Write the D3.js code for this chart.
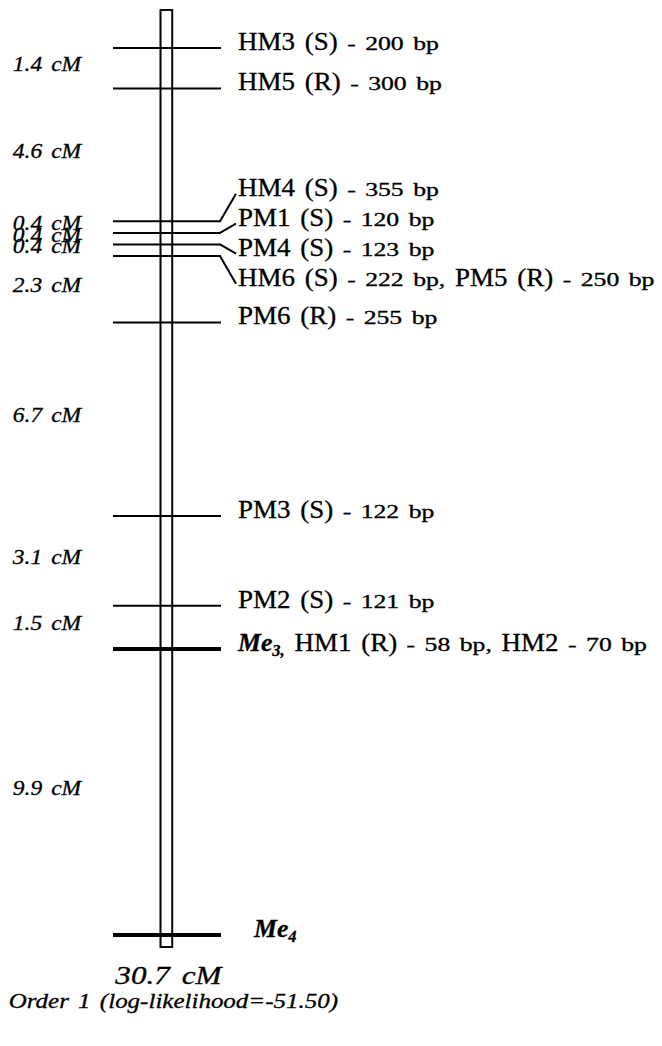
<!DOCTYPE html>
<html><head><meta charset="utf-8">
<script src="https://cdn.jsdelivr.net/npm/d3@7"></script>
<style>html,body{margin:0;padding:0;background:#fff;} svg{display:block}</style>
</head><body>
<svg id="chart" width="662" height="1046"></svg>
<script>
// ---------- data ----------
const loci = ["HM3","HM5","HM4","PM1","PM4","HM6","PM6","PM3","PM2","Me3","Me4"];
const intervalsCM = [1.4, 4.6, 0.4, 0.4, 0.4, 2.3, 6.7, 3.1, 1.5, 9.9];
const intervalLabels = ["1.4 cM","4.6 cM","0.4 cM","0.4 cM","0.4 cM","2.3 cM","6.7 cM","3.1 cM","1.5 cM","9.9 cM"];
const geneLoci = ["Me3","Me4"];
const labelParts = [
  [["HM3 (S)","big"],[" - 200 bp","small"]],
  [["HM5 (R)","big"],[" - 300 bp","small"]],
  [["HM4 (S)","big"],[" - 355 bp","small"]],
  [["PM1 (S)","big"],[" - 120 bp","small"]],
  [["PM4 (S)","big"],[" - 123 bp","small"]],
  [["HM6 (S)","big"],[" - 222 bp,","small"],[" PM5 (R)","big"],[" - 250 bp","small"]],
  [["PM6 (R)","big"],[" - 255 bp","small"]],
  [["PM3 (S)","big"],[" - 122 bp","small"]],
  [["PM2 (S)","big"],[" - 121 bp","small"]],
  [["Me","gene"],["3,","sub"],[" HM1 (R)","big"],[" - 58 bp,","small"],[" HM2","big"],[" - 70 bp","small"]],
  [["Me","gene"],["4","sub"]]
];
const totalLabel = "30.7 cM";
const orderLabel = "Order 1 (log-likelihood=-51.50)";

// ---------- layout ----------
const W = 662, H = 1046;
const svg = d3.select("#chart");
svg.append("rect").attr("width", W).attr("height", H).attr("fill", "#fff");

const positions = [0];
intervalsCM.forEach(d => positions.push(positions[positions.length - 1] + d));
const total = d3.sum(intervalsCM);

const y = d3.scaleLinear().domain([0, total]).range([48, 935]);
const barX = d3.scaleLinear().domain([-1, 1]).range([160.5, 172.3]);
const lineX1 = 113, lineX2 = 221, labelX = 238, connectX = 236;

const FONT = "'Liberation Serif', 'Times New Roman', serif";
const styles = {
  big:   {size: 25, fs: "normal", fw: "normal", sx: 1.08, dy: 0},
  small: {size: 18, fs: "normal", fw: "normal", sx: 1.43, dy: 0},
  gene:  {size: 25, fs: "italic", fw: "bold",   sx: 1.03, dy: 0},
  sub:   {size: 16, fs: "italic", fw: "bold",   sx: 1.03, dy: 5},
  ital:  {size: 21, fs: "italic", fw: "normal", sx: 1.12, dy: 0},
  order: {size: 21, fs: "italic", fw: "normal", sx: 1.19, dy: 0},
  total: {size: 26, fs: "italic", fw: "normal", sx: 1.2,  dy: 0}
};
const extraSpace = {big: 3, small: 3, gene: 3, sub: 3, ital: 3, order: 3, total: 4};

function drawRich(g, x, yy, parts) {
  let cx = x;
  parts.forEach(([text, kind]) => {
    const st = styles[kind];
    text.split(" ").forEach((w, k) => {
      if (k > 0) cx += 0.25 * st.size * st.sx + extraSpace[kind];
      if (!w) return;
      const t = g.append("text")
        .attr("transform", `translate(${cx},${yy + st.dy}) scale(${st.sx},1)`)
        .attr("font-family", FONT)
        .attr("font-size", st.size)
        .attr("font-style", st.fs)
        .attr("font-weight", st.fw)
        .attr("fill", "#000")
        .attr("stroke", "#000")
        .attr("stroke-width", 0.3)
        .text(w);
      cx += t.node().getComputedTextLength() * st.sx;
    });
  });
  return cx - x;
}
function drawCentered(cx, yy, text, kind) {
  const g = svg.append("g");
  const w = drawRich(g, 0, yy, [[text, kind]]);
  g.attr("transform", `translate(${cx - w / 2},0)`);
}

// chromosome bar (fill)
const barTop = y(0) - 38, barBottom = y(total) + 12;
svg.append("rect")
  .attr("x", barX(-1)).attr("y", barTop)
  .attr("width", barX(1) - barX(-1)).attr("height", barBottom - barTop)
  .attr("fill", "#fff").attr("stroke", "#000").attr("stroke-width", 1.6);

// marker lines
const lineY = positions.map(p => y(p));
svg.append("g").selectAll("line").data(loci).join("line")
  .attr("x1", lineX1).attr("x2", lineX2)
  .attr("y1", (d, i) => lineY[i]).attr("y2", (d, i) => lineY[i])
  .attr("stroke", "#000")
  .attr("stroke-width", d => geneLoci.includes(d) ? 4 : 2);

// bar outline on top
svg.append("rect")
  .attr("x", barX(-1)).attr("y", barTop)
  .attr("width", barX(1) - barX(-1)).attr("height", barBottom - barTop)
  .attr("fill", "none").attr("stroke", "#000").attr("stroke-width", 1.6);

// label placement with spreading of crowded labels
const minGap = 30;
const labelY = lineY.slice();
for (let it = 0; it < 300; it++) {
  for (let i = 1; i < labelY.length; i++) {
    const diff = labelY[i] - labelY[i - 1];
    if (diff < minGap) {
      const o = (minGap - diff) / 2;
      labelY[i - 1] -= o; labelY[i] += o;
    }
  }
}

// connectors
const conn = svg.append("g");
loci.forEach((d, i) => {
  if (Math.abs(labelY[i] - lineY[i]) > 1) {
    conn.append("line")
      .attr("x1", lineX2 - 1).attr("y1", lineY[i])
      .attr("x2", connectX).attr("y2", labelY[i])
      .attr("stroke", "#000").attr("stroke-width", 2);
  }
});

// locus labels
loci.forEach((d, i) => {
  const g = svg.append("g");
  const indent = (i === loci.length - 1) ? 16 : 0;
  drawRich(g, labelX + indent, labelY[i] + 2, labelParts[i]);
});

// interval labels (left)
intervalLabels.forEach((lab, i) => {
  const mid = y((positions[i] + positions[i + 1]) / 2);
  drawCentered(47, mid + 3, lab, "ital");
});

// bottom labels
drawCentered(barX(0) + 2, barBottom + 37, totalLabel, "total");
drawCentered(barX(0) + 7, barBottom + 61, orderLabel, "order");
</script>
</body></html>
